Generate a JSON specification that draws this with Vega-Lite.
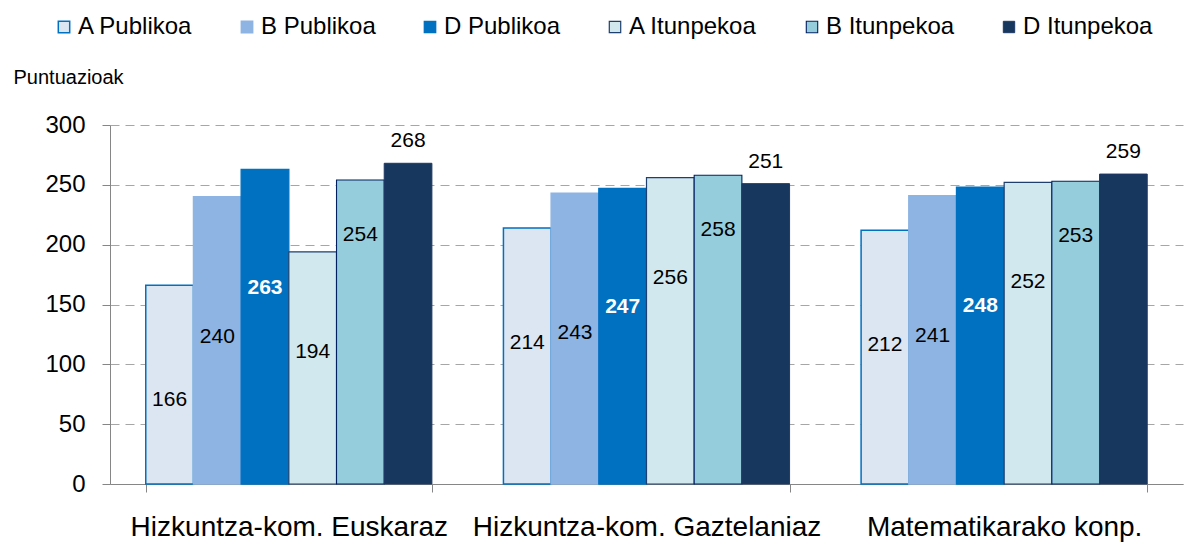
{
  "$schema": "https://vega.github.io/schema/vega-lite/v6.json",
  "width": 1073,
  "height": 359,
  "autosize": "none",
  "padding": {"left": 110, "top": 125, "right": 1, "bottom": 58},
  "background": "white",
  "config": {
    "view": {"stroke": null},
    "font": "Liberation Sans",
    "legend": {
      "orient": "none",
      "legendX": -58,
      "legendY": -110,
      "direction": "horizontal",
      "columns": 6,
      "gridAlign": "each",
      "labelFontSize": 24,
      "labelColor": "black",
      "symbolType": "square",
      "symbolSize": 130,
      "columnPadding": 42,
      "labelOffset": 2,
      "title": null
    }
  },
  "data": {
    "values": [
      {"skill": "Hizkuntza-kom. Euskaraz", "series": "A Publikoa", "score": 166},
      {"skill": "Hizkuntza-kom. Euskaraz", "series": "B Publikoa", "score": 240},
      {"skill": "Hizkuntza-kom. Euskaraz", "series": "D Publikoa", "score": 263},
      {"skill": "Hizkuntza-kom. Euskaraz", "series": "A Itunpekoa", "score": 194},
      {"skill": "Hizkuntza-kom. Euskaraz", "series": "B Itunpekoa", "score": 254},
      {"skill": "Hizkuntza-kom. Euskaraz", "series": "D Itunpekoa", "score": 268},
      {"skill": "Hizkuntza-kom. Gaztelaniaz", "series": "A Publikoa", "score": 214},
      {"skill": "Hizkuntza-kom. Gaztelaniaz", "series": "B Publikoa", "score": 243},
      {"skill": "Hizkuntza-kom. Gaztelaniaz", "series": "D Publikoa", "score": 247},
      {"skill": "Hizkuntza-kom. Gaztelaniaz", "series": "A Itunpekoa", "score": 256},
      {"skill": "Hizkuntza-kom. Gaztelaniaz", "series": "B Itunpekoa", "score": 258},
      {"skill": "Hizkuntza-kom. Gaztelaniaz", "series": "D Itunpekoa", "score": 251},
      {"skill": "Matematikarako konp.", "series": "A Publikoa", "score": 212},
      {"skill": "Matematikarako konp.", "series": "B Publikoa", "score": 241},
      {"skill": "Matematikarako konp.", "series": "D Publikoa", "score": 248},
      {"skill": "Matematikarako konp.", "series": "A Itunpekoa", "score": 252},
      {"skill": "Matematikarako konp.", "series": "B Itunpekoa", "score": 253},
      {"skill": "Matematikarako konp.", "series": "D Itunpekoa", "score": 259}
    ]
  },
  "encoding": {
    "x": {
      "field": "skill",
      "type": "nominal",
      "scale": {
        "domain": ["Hizkuntza-kom. Euskaraz", "Hizkuntza-kom. Gaztelaniaz", "Matematikarako konp."],
        "paddingInner": 0.2,
        "paddingOuter": 0.1
      },
      "axis": {
        "title": null,
        "labelFontSize": 28,
        "labelColor": "black",
        "labelAngle": 0,
        "labelBaseline": "alphabetic",
        "labelPadding": 43,
        "labelLimit": 0,
        "labelOverlap": false,
        "tickBand": "extent",
        "tickSize": 8,
        "tickColor": "#868686",
        "domainColor": "#868686",
        "grid": false
      }
    },
    "xOffset": {
      "field": "series",
      "type": "nominal",
      "scale": {
        "domain": ["A Publikoa", "B Publikoa", "D Publikoa", "A Itunpekoa", "B Itunpekoa", "D Itunpekoa"],
        "paddingInner": 0,
        "paddingOuter": 0
      }
    },
    "y": {
      "field": "score",
      "type": "quantitative",
      "scale": {"domain": [0, 300], "nice": false},
      "axis": {
        "title": "Puntuazioak",
        "titleAngle": 0,
        "titleAlign": "left",
        "titleBaseline": "alphabetic",
        "titleX": -97,
        "titleY": -42,
        "titleFontSize": 20,
        "titleFontWeight": "normal",
        "titleColor": "black",
        "values": [0, 50, 100, 150, 200, 250, 300],
        "labelFontSize": 24,
        "labelColor": "black",
        "labelPadding": 17,
        "tickSize": 8,
        "tickColor": "#868686",
        "domainColor": "#868686",
        "gridColor": "#A6A6A6",
        "gridDash": [9, 6],
        "gridWidth": 1
      }
    }
  },
  "layer": [
    {
      "mark": {"type": "bar"},
      "encoding": {
        "fill": {
          "field": "series",
          "type": "nominal",
          "scale": {
            "domain": ["A Publikoa", "B Publikoa", "D Publikoa", "A Itunpekoa", "B Itunpekoa", "D Itunpekoa"],
            "range": ["#DCE6F2", "#8DB4E2", "#0070C0", "#D1E8EF", "#96CDDD", "#17375E"]
          }
        },
        "stroke": {
          "field": "series",
          "type": "nominal",
          "scale": {
            "domain": ["A Publikoa", "B Publikoa", "D Publikoa", "A Itunpekoa", "B Itunpekoa", "D Itunpekoa"],
            "range": ["#0070C0", "#8DB4E2", "#0070C0", "#1F3F6E", "#002060", "#1F3864"]
          }
        },
        "strokeWidth": {
          "field": "series",
          "type": "ordinal",
          "scale": {
            "domain": ["A Publikoa", "B Publikoa", "D Publikoa", "A Itunpekoa", "B Itunpekoa", "D Itunpekoa"],
            "range": [1.5, 1, 1, 2, 3, 1]
          }
        }
      }
    },
    {
      "transform": [{"filter": {"field": "series", "equal": "A Publikoa"}}],
      "mark": {"type": "text", "fontSize": 21, "baseline": "middle", "dy": 115, "color": "black"},
      "encoding": {"text": {"field": "score", "type": "quantitative"}}
    },
    {
      "transform": [{"filter": {"field": "series", "equal": "B Publikoa"}}],
      "mark": {"type": "text", "fontSize": 21, "baseline": "middle", "dy": 140, "color": "black"},
      "encoding": {"text": {"field": "score", "type": "quantitative"}}
    },
    {
      "transform": [{"filter": {"field": "series", "equal": "D Publikoa"}}],
      "mark": {"type": "text", "fontSize": 21, "fontWeight": "bold", "baseline": "middle", "dy": 119, "color": "white"},
      "encoding": {"text": {"field": "score", "type": "quantitative"}}
    },
    {
      "transform": [{"filter": {"field": "series", "equal": "A Itunpekoa"}}],
      "mark": {"type": "text", "fontSize": 21, "baseline": "middle", "dy": 100, "color": "black"},
      "encoding": {"text": {"field": "score", "type": "quantitative"}}
    },
    {
      "transform": [{"filter": {"field": "series", "equal": "B Itunpekoa"}}],
      "mark": {"type": "text", "fontSize": 21, "baseline": "middle", "dy": 55, "color": "black"},
      "encoding": {"text": {"field": "score", "type": "quantitative"}}
    },
    {
      "transform": [{"filter": {"field": "series", "equal": "D Itunpekoa"}}],
      "mark": {"type": "text", "fontSize": 21, "baseline": "middle", "dy": -22, "color": "black"},
      "encoding": {"text": {"field": "score", "type": "quantitative"}}
    }
  ]
}
